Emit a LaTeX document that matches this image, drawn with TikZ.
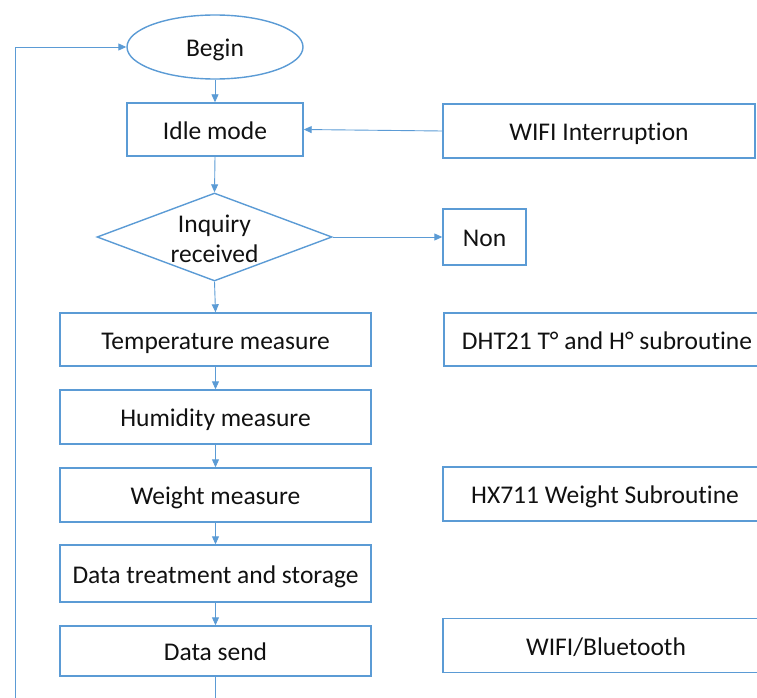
\documentclass[tikz,border=0pt]{standalone}
\usepackage{fontspec}
\setmainfont{Carlito}[Ligatures={NoCommon}]
\usetikzlibrary{shapes.geometric,arrows.meta}
\definecolor{flowblue}{HTML}{5B9BD5}
\definecolor{ink}{HTML}{111111}
\newcommand{\chartfont}{\fontsize{25.5}{30}\selectfont}
\begin{document}
\begin{tikzpicture}[x=1pt,y=-1pt,
  shapebase/.style={draw=flowblue,line width=1.4pt,inner sep=0pt,text=ink,font=\chartfont,
    text height=23pt,text depth=3.6pt},
  stepbox/.style={shapebase,rectangle},
  startshape/.style={shapebase,ellipse},
  decision/.style={shapebase,diamond},
  flow/.style={draw=flowblue,line width=0.9pt,-{Triangle[length=8pt,width=7pt]}}]
\useasboundingbox (0,0) rectangle (757,698);
\clip (0,0) rectangle (757,698);

% main chain
\node[startshape,minimum width=176,minimum height=64] (begin) at (215,47) {Begin};
\node[stepbox,minimum width=176,minimum height=53] (idle) at (215,129.5) {Idle mode};
\node[decision,minimum width=235,minimum height=88] (ask) at (214.5,237) {};
\node[font=\chartfont,text=ink,align=center,inner sep=0pt,yshift=-1.5pt] (asktext) at (ask.center) {Inquiry\\received};
\node[stepbox,minimum width=311,minimum height=53] (temp) at (215.5,339.5) {Temperature measure};
\node[stepbox,minimum width=311,minimum height=54] (hum) at (215.5,417) {Humidity measure};
\node[stepbox,minimum width=311,minimum height=54] (wt) at (215.5,495) {Weight measure};
\node[stepbox,minimum width=311,minimum height=57] (treat) at (215.5,573.5) {Data treatment and storage};
\node[stepbox,minimum width=311,minimum height=50] (send) at (215.5,651) {Data send};

% side blocks
\node[stepbox,minimum width=312,minimum height=54] (wifi) at (599,131) {WIFI Interruption};
\node[stepbox,minimum width=83,minimum height=56] (non) at (484.5,237) {Non};
\node[stepbox,minimum width=326,minimum height=53] (dht) at (607,339.5) {DHT21 T° and H° subroutine};
\node[stepbox,minimum width=324,minimum height=54] (hx) at (605,494) {HX711 Weight Subroutine};
\node[stepbox,minimum width=326,minimum height=54] (bt) at (606,645.5) {WIFI/Bluetooth};

% connectors
\coordinate (loopcorner) at (15,720);
\draw[flow] (begin.south) -- (idle.north);
\draw[flow] (wifi.west) -- (idle.east);
\draw[flow] (idle.south) -- (ask.north);
\draw[flow] (ask.east) -- (non.west);
\draw[flow] (ask.south) -- (temp.north);
\draw[flow] (temp.south) -- (hum.north);
\draw[flow] (hum.south) -- (wt.north);
\draw[flow] (wt.south) -- (treat.north);
\draw[flow] (treat.south) -- (send.north);
\draw[flow] (send.south) |- (loopcorner) |- (begin.west);
\end{tikzpicture}
\end{document}
